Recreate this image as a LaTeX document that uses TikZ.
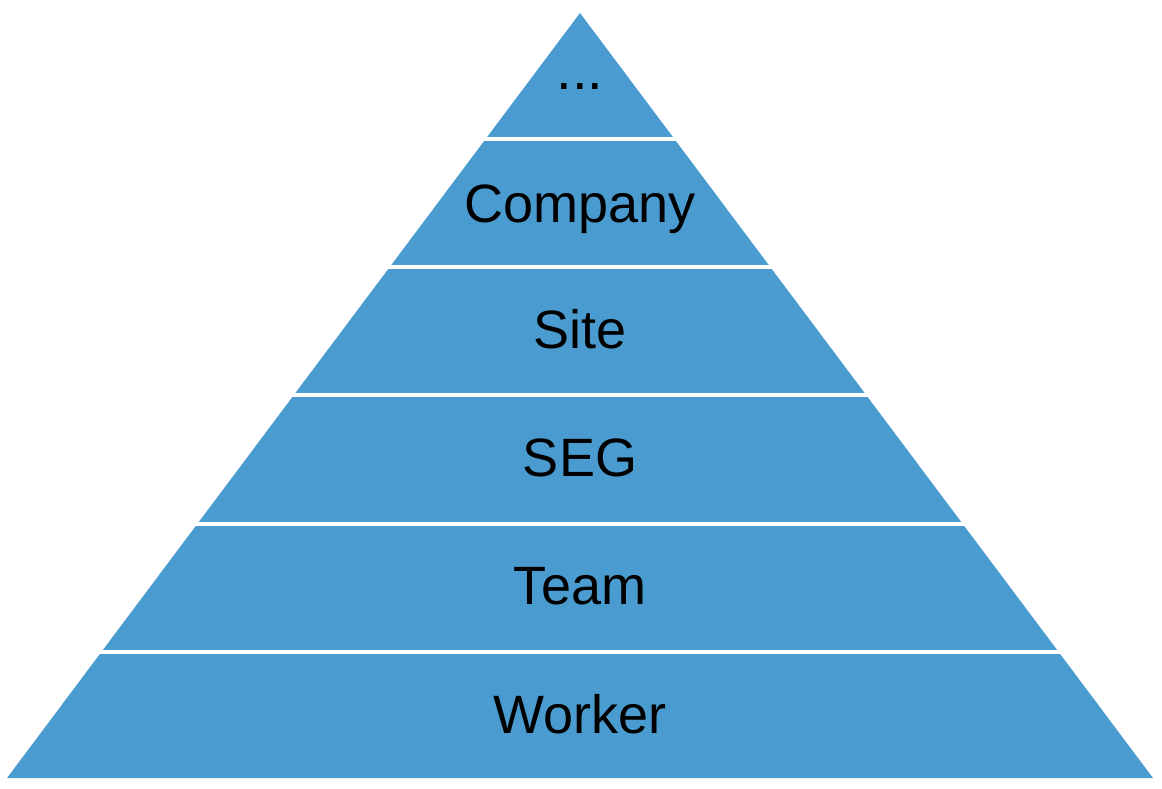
\documentclass[tikz,border=0pt]{standalone}
\usepackage{fontspec}
\setmainfont{Liberation Sans}
\definecolor{pyrblue}{RGB}{74,156,208}
\begin{document}
\begin{tikzpicture}[x=1pt,y=-1pt,
  lbl/.style={anchor=base,inner sep=0pt,font=\fontsize{54}{60}\selectfont,text=black},
  gapline/.style={draw=white,line width=4pt}]
\useasboundingbox (0,0) rectangle (1162,788);
\fill[pyrblue] (580,13) -- (1153,778) -- (7,778) -- cycle;
\foreach \y in {139,267,395,523.5,651.5}{
  \draw[gapline] (0,\y) -- (1162,\y);
}
\node[lbl,font=\fontsize{56}{60}\selectfont] (top) at (580,89.5) {...};
\node[lbl] (company) at (580,222) {Company};
\node[lbl] (site) at (580,348) {Site};
\node[lbl] (seg) at (580,476) {SEG};
\node[lbl] (team) at (580,604) {Team};
\node[lbl] (worker) at (580,733) {Worker};
\end{tikzpicture}
\end{document}
